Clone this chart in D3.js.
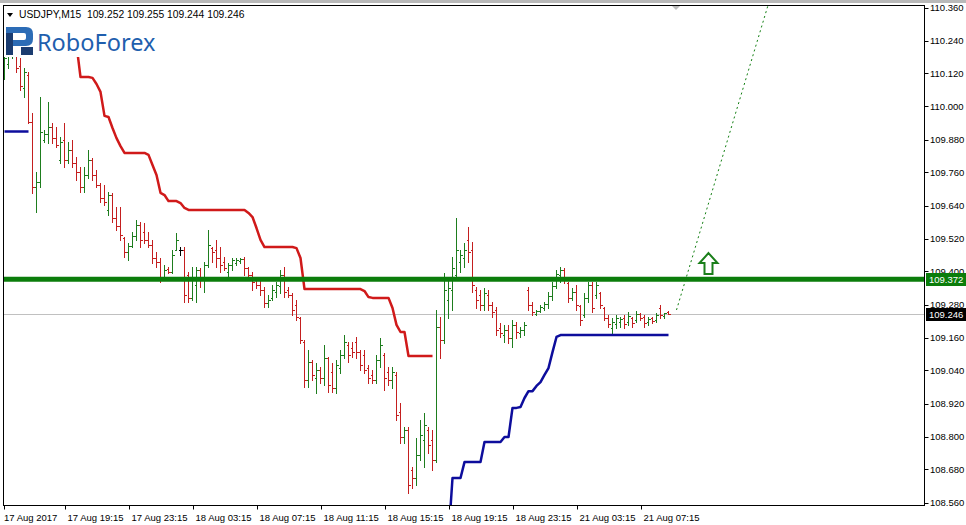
<!DOCTYPE html>
<html>
<head>
<meta charset="utf-8">
<script src="https://cdn.jsdelivr.net/npm/d3@7"></script>
<style>
  html, body { margin: 0; padding: 0; background: #fff; }
  svg { display: block; font-family: "Liberation Sans", Arial, sans-serif; }
</style>
</head>
<body>
<div id="vis"></div>
<script>
// frame constants
const FRAME_WIDTH = 966;
const FRAME_HEIGHT = 525;
const PLOT = {left: 3.5, top: 5.5, right: 924.5, bottom: 505.5};

// chart data
const symbolName = "USDJPY,M15";

// one row per 15 min bar: open, high, low, close
const ohlc = [
  [110.115,110.187,110.100,110.176],[110.154,110.205,110.140,110.191],[110.191,110.249,110.176,110.227],
  [110.212,110.223,110.125,110.140],[110.147,110.176,110.060,110.075],[110.067,110.140,110.035,110.125],
  [110.115,110.125,109.940,109.943],[109.943,109.976,109.686,109.707],[109.707,109.762,109.616,109.725],
  [109.725,110.035,109.707,109.907],[109.878,109.915,109.871,109.900],[109.900,110.016,109.867,109.925],
  [109.925,109.940,109.867,109.885],[109.885,109.925,109.853,109.860],[109.806,109.889,109.795,109.871],
  [109.878,109.940,109.780,109.806],[109.806,109.871,109.795,109.842],[109.842,109.878,109.780,109.795],
  [109.795,109.816,109.733,109.762],[109.762,109.780,109.689,109.707],[109.707,109.780,109.689,109.751],
  [109.751,109.842,109.740,109.806],[109.806,109.813,109.733,109.751],[109.751,109.769,109.707,109.715],
  [109.715,109.722,109.653,109.667],[109.667,109.715,109.642,109.653],[109.624,109.689,109.606,109.678],
  [109.678,109.686,109.580,109.595],[109.595,109.635,109.551,109.565],[109.565,109.635,109.515,109.533],
  [109.522,109.526,109.453,109.471],[109.471,109.504,109.442,109.493],[109.493,109.544,109.489,109.529],
  [109.529,109.587,109.515,109.569],[109.569,109.580,109.489,109.515],[109.544,109.576,109.504,109.515],
  [109.515,109.544,109.489,109.496],[109.496,109.515,109.431,109.449],[109.449,109.471,109.416,109.435],
  [109.435,109.449,109.362,109.376],[109.376,109.424,109.369,109.405],[109.409,109.416,109.395,109.398],
  [109.398,109.478,109.395,109.460],[109.478,109.540,109.478,109.515],[109.478,109.489,109.460,109.478],
  [109.478,109.489,109.289,109.315],[109.387,109.398,109.289,109.304],[109.304,109.416,109.296,109.376],
  [109.351,109.416,109.289,109.405],[109.405,109.413,109.344,109.369],[109.369,109.435,109.326,109.424],
  [109.424,109.551,109.416,109.496],[109.485,109.489,109.435,109.471],[109.478,109.515,109.416,109.449],
  [109.449,109.489,109.398,109.424],[109.435,109.453,109.405,109.413],[109.398,109.431,109.376,109.424],
  [109.424,109.449,109.405,109.442],[109.431,109.449,109.424,109.442],[109.438,109.449,109.431,109.445],
  [109.445,109.453,109.387,109.413],[109.413,109.416,109.369,109.387],[109.387,109.398,109.333,109.362],
  [109.369,109.380,109.340,109.351],[109.351,109.369,109.315,109.333],[109.333,109.344,109.271,109.286],
  [109.286,109.315,109.271,109.296],[109.304,109.351,109.296,109.333],[109.326,109.362,109.307,109.351],
  [109.347,109.405,109.322,109.387],[109.387,109.416,109.307,109.326],[109.333,109.344,109.307,109.315],
  [109.315,109.322,109.242,109.260],[109.278,109.296,109.224,109.235],[109.231,109.235,109.140,109.151],
  [109.144,109.151,108.980,109.005],[109.005,109.115,108.980,109.071],[109.071,109.078,109.005,109.024],
  [109.013,109.067,108.958,109.042],[109.042,109.053,108.995,109.013],[109.013,109.133,108.987,109.086],
  [109.086,109.089,108.962,108.987],[109.035,109.067,108.962,108.976],[108.976,109.078,108.958,109.060],
  [109.049,109.115,109.031,109.096],[109.096,109.169,109.086,109.144],[109.133,109.144,109.071,109.096],
  [109.122,109.144,109.089,109.107],[109.144,109.162,109.086,109.107],[109.107,109.115,109.042,109.060],
  [109.096,109.115,109.031,109.042],[109.049,109.060,108.995,109.013],[109.024,109.042,108.995,109.005],
  [109.005,109.096,108.995,109.078],[109.078,109.158,109.053,109.133],[109.096,109.104,108.969,109.013],
  [109.035,109.053,108.987,109.005],[109.005,109.053,108.976,109.035],[109.024,109.035,108.860,108.878],
  [108.889,108.922,108.776,108.798],[108.798,108.835,108.776,108.824],[108.824,108.835,108.595,108.624],
  [108.678,108.689,108.613,108.649],[108.649,108.795,108.624,108.733],[108.733,108.860,108.715,108.805],
  [108.787,108.886,108.689,108.842],[108.824,108.835,108.740,108.769],[108.787,108.824,108.678,108.715],
  [108.715,109.260,108.707,109.198],[109.198,109.235,109.086,109.151],[109.151,109.395,109.140,109.333],
  [109.296,109.369,109.231,109.340],[109.333,109.453,109.260,109.413],[109.387,109.595,109.369,109.478],
  [109.435,109.478,109.398,109.460],[109.449,109.504,109.416,109.478],[109.515,109.562,109.435,109.471],
  [109.478,109.507,109.326,109.351],[109.333,109.344,109.267,109.296],[109.315,109.333,109.260,109.278],
  [109.278,109.340,109.260,109.322],[109.315,109.333,109.260,109.278],[109.278,109.289,109.235,109.253],
  [109.260,109.271,109.169,109.187],[109.195,109.213,109.162,109.176],[109.169,109.206,109.144,109.187],
  [109.187,109.206,109.140,109.158],[109.158,109.224,109.126,109.206],[109.206,109.216,109.158,109.180],
  [109.176,109.198,109.162,109.187],[109.187,109.216,109.169,109.206],[109.333,109.344,109.260,109.278],
  [109.278,109.289,109.242,109.253],[109.246,109.260,109.242,109.256],[109.256,109.278,109.253,109.271],
  [109.267,109.289,109.260,109.282],[109.282,109.326,109.267,109.311],[109.311,109.362,109.296,109.347],
  [109.347,109.405,109.340,109.391],[109.387,109.416,109.362,109.405],[109.405,109.413,109.358,109.369],
  [109.358,109.362,109.289,109.304],[109.304,109.340,109.296,109.326],[109.326,109.351,109.260,109.278],
  [109.275,109.278,109.206,109.224],[109.242,109.322,109.235,109.304],[109.304,109.362,109.289,109.351],
  [109.351,109.362,109.253,109.267],[109.315,109.362,109.304,109.351],[109.322,109.326,109.267,109.278],
  [109.267,109.271,109.224,109.231],[109.231,109.242,109.198,109.209],[109.195,109.231,109.176,109.216],
  [109.209,109.242,109.195,109.231],[109.216,109.235,109.198,109.227],[109.231,109.242,109.195,109.209],
  [109.216,109.253,109.206,109.238],[109.231,109.235,109.198,109.213],[109.224,109.256,109.216,109.246],
  [109.246,109.249,109.224,109.231],[109.235,109.242,109.198,109.213],[109.216,109.235,109.206,109.227],
  [109.231,109.235,109.213,109.220],[109.224,109.249,109.216,109.242],[109.267,109.278,109.231,109.242],
  [109.238,109.249,109.231,109.249],[109.252,109.255,109.244,109.246]
];

// upper channel (red), values per bar starting at bar 18
const upperStart = 18;
const upperBand = [
  110.224, 110.107, 110.107, 110.107, 110.104, 110.082, 110.053, 109.966, 109.962, 109.922,
  109.885, 109.856, 109.831, 109.831, 109.831, 109.831, 109.831, 109.831, 109.824, 109.787,
  109.751, 109.686, 109.678, 109.656, 109.656, 109.656, 109.649, 109.631, 109.624, 109.624,
  109.624, 109.624, 109.624, 109.624, 109.624, 109.624, 109.624, 109.624, 109.624, 109.624,
  109.624, 109.624, 109.624, 109.613, 109.598, 109.558, 109.515, 109.489, 109.489, 109.489,
  109.489, 109.489, 109.489, 109.489, 109.489, 109.485, 109.449, 109.336, 109.336, 109.336,
  109.336, 109.336, 109.336, 109.336, 109.336, 109.336, 109.336, 109.336, 109.336, 109.336,
  109.336, 109.336, 109.329, 109.307, 109.304, 109.304, 109.304, 109.304, 109.304, 109.267,
  109.206, 109.180, 109.180, 109.093, 109.093, 109.093, 109.093, 109.093, 109.093, 109.093
];

// lower channel (blue), two visible pieces
const lowerStartA = 0;
const lowerBandA = [109.909, 109.909, 109.909, 109.909, 109.909, 109.909, 109.909];
const lowerStartB = 111;
const lowerBandB = [
  108.431, 108.649, 108.649, 108.649, 108.707, 108.707, 108.707, 108.707, 108.707, 108.780,
  108.780, 108.780, 108.780, 108.780, 108.798, 108.798, 108.904, 108.904, 108.907, 108.940,
  108.965, 108.965, 108.984, 108.998, 109.024, 109.049, 109.107, 109.162, 109.169, 109.169,
  109.169, 109.169, 109.169, 109.169, 109.169, 109.169, 109.169, 109.169, 109.169, 109.169,
  109.169, 109.169, 109.169, 109.169, 109.169, 109.169, 109.169, 109.169, 109.169, 109.169,
  109.169, 109.169, 109.169, 109.169, 109.169, 109.169
];

const levelPrice = 109.372;
const forecast = [[168, 109.260], [191, 110.374]];
const arrowAt = [176, 109.467];

const priceTicks = [110.360, 110.240, 110.120, 110.000, 109.880, 109.760, 109.640, 109.520,
                    109.400, 109.280, 109.160, 109.040, 108.920, 108.800, 108.680, 108.560];
const timeLabels = ["17 Aug 2017", "17 Aug 19:15", "17 Aug 23:15", "18 Aug 03:15", "18 Aug 07:15",
                    "18 Aug 11:15", "18 Aug 15:15", "18 Aug 19:15", "18 Aug 23:15", "21 Aug 03:15",
                    "21 Aug 07:15"];
const timeIndex = [0, 15, 31, 47, 63, 79, 95, 111, 127, 143, 159];

const UP = "#1e7d1e", DOWN = "#c41f1f";
const fmt = d3.format(".3f");

const svg = d3.select("#vis")
              .append("svg")
              .attr("width", FRAME_WIDTH)
              .attr("height", FRAME_HEIGHT);

// scales
const x = d3.scaleLinear()
            .domain([0, ohlc.length - 1])
            .range([4.5, 4.5 + 4 * (ohlc.length - 1)]);
const y = d3.scaleLinear()
            .domain([108.56, 110.36])
            .range([502.5, 7.5]);

const px = v => Math.round(v) + 0.5;

// background + top strip
svg.append("rect").attr("width", FRAME_WIDTH).attr("height", FRAME_HEIGHT).attr("fill", "#fff");
svg.append("rect").attr("width", FRAME_WIDTH).attr("height", 3).attr("fill", "#b9b9b9");

svg.append("clipPath").attr("id", "plotclip")
   .append("rect")
   .attr("x", PLOT.left).attr("y", PLOT.top)
   .attr("width", PLOT.right - PLOT.left).attr("height", PLOT.bottom - PLOT.top);

const plot = svg.append("g").attr("clip-path", "url(#plotclip)");

// bid line
const bid = ohlc[ohlc.length - 1][3];
plot.append("line")
    .attr("x1", PLOT.left).attr("x2", PLOT.right)
    .attr("y1", px(y(bid))).attr("y2", px(y(bid)))
    .attr("stroke", "#c0c0c0").attr("stroke-width", 1);

// OHLC bars
const barColor = d => d[3] > d[0] ? UP : (d[3] < d[0] ? DOWN : "#000");
const bars = plot.selectAll("g.bar")
                 .data(ohlc)
                 .enter()
                 .append("g")
                 .attr("class", "bar")
                 .attr("stroke", barColor)
                 .attr("stroke-width", 1)
                 .attr("shape-rendering", "crispEdges");
bars.append("line")
    .attr("x1", (d, i) => x(i)).attr("x2", (d, i) => x(i))
    .attr("y1", d => Math.round(y(d[1]))).attr("y2", d => Math.round(y(d[2])) + 1);
bars.append("line")
    .attr("x1", (d, i) => x(i) - 2).attr("x2", (d, i) => x(i))
    .attr("y1", d => px(y(d[0]))).attr("y2", d => px(y(d[0])));
bars.append("line")
    .attr("x1", (d, i) => x(i)).attr("x2", (d, i) => x(i) + 2)
    .attr("y1", d => px(y(d[3]))).attr("y2", d => px(y(d[3])));

// channel lines
const bandLine = d3.line().x(d => x(d[0])).y(d => y(d[1]));
const toPts = (start, arr) => arr.map((v, k) => [start + k, v]);

plot.append("path")
    .attr("d", bandLine(toPts(upperStart, upperBand)))
    .attr("fill", "none").attr("stroke", "#d01a1a").attr("stroke-width", 2.5)
    .attr("stroke-linejoin", "round");
[[lowerStartA, lowerBandA], [lowerStartB, lowerBandB]].forEach(([s, arr]) => {
  plot.append("path")
      .attr("d", bandLine(toPts(s, arr)))
      .attr("fill", "none").attr("stroke", "#0d0d9c").attr("stroke-width", 2.5)
      .attr("stroke-linejoin", "round");
});

// horizontal level
plot.append("line")
    .attr("x1", PLOT.left).attr("x2", PLOT.right)
    .attr("y1", y(levelPrice)).attr("y2", y(levelPrice))
    .attr("stroke", "#0b7d0b").attr("stroke-width", 5);

// forecast dotted line
plot.append("path")
    .attr("d", bandLine(forecast))
    .attr("fill", "none").attr("stroke", "#127f12").attr("stroke-width", 1)
    .attr("stroke-dasharray", "2,3");

// up arrow
const ax = x(arrowAt[0]), ay = y(arrowAt[1]);
svg.append("path")
   .attr("d", `M${ax},${ay} L${ax + 9},${ay + 10} L${ax + 4},${ay + 10} L${ax + 4},${ay + 21}
               L${ax - 4},${ay + 21} L${ax - 4},${ay + 10} L${ax - 9},${ay + 10} Z`)
   .attr("fill", "#fff").attr("stroke", "#1a7f1a").attr("stroke-width", 2)
   .attr("stroke-linejoin", "miter");

// logo
svg.append("rect").attr("x", 4).attr("y", 21).attr("width", 158).attr("height", 36).attr("fill", "#fff");
const logo = svg.append("g");
logo.append("path")
    .attr("d", "M6,27 H26 Q33,27 33,34 V39 Q33,46 26,46 H13 V40 H24 Q26,40 26,38 V35 Q26,33 24,33 H6 Z")
    .attr("fill", "#2c6cb6");
logo.append("rect").attr("x", 6).attr("y", 33).attr("width", 7).attr("height", 22).attr("fill", "#1b3c70");
logo.append("rect").attr("x", 21).attr("y", 47).attr("width", 12).attr("height", 8).attr("fill", "#1b3c70");
logo.append("text")
    .attr("x", 37).attr("y", 51)
    .attr("font-family", "'Noto Sans', sans-serif")
    .attr("font-size", 23.5)
    .attr("fill", "#1f5fae")
    .text("RoboForex");

// header
svg.append("path").attr("d", "M7,13 L13,13 L10,17 Z").attr("fill", "#000");
const last = ohlc[ohlc.length - 1];
svg.append("text")
   .attr("x", 19).attr("y", 18)
   .attr("font-size", 10.3)
   .style("white-space", "pre")
   .text(symbolName + "  " + last.map(fmt).join(" "));

// chart shift marker
svg.append("path").attr("d", "M672,6 L680,6 L676,10 Z").attr("fill", "#bdbdbd");

// frame
svg.append("rect")
   .attr("x", PLOT.left).attr("y", PLOT.top)
   .attr("width", PLOT.right - PLOT.left).attr("height", PLOT.bottom - PLOT.top)
   .attr("fill", "none").attr("stroke", "#000").attr("stroke-width", 1);

// price axis
const pAxis = svg.append("g");
priceTicks.forEach(p => {
  pAxis.append("line")
       .attr("x1", PLOT.right).attr("x2", PLOT.right + 4)
       .attr("y1", px(y(p))).attr("y2", px(y(p)))
       .attr("stroke", "#000");
  pAxis.append("text")
       .attr("x", 930).attr("y", y(p) + 3.5)
       .attr("font-size", 9.5)
       .text(fmt(p));
});

// axis boxes (drawn over the tick labels, as in the terminal)
[[levelPrice, "#0b7d0b"], [bid, "#000"]].forEach(([p, c]) => {
  svg.append("rect")
     .attr("x", 926).attr("y", Math.round(y(p)) - 6)
     .attr("width", 40).attr("height", 13)
     .attr("fill", c);
  svg.append("text")
     .attr("x", 929).attr("y", y(p) + 4)
     .attr("font-size", 9.5).attr("fill", "#fff")
     .text(fmt(p));
});

// time axis
timeLabels.forEach((t, k) => {
  const tx = k === 0 ? PLOT.left : x(timeIndex[k]);
  svg.append("line")
     .attr("x1", px(tx)).attr("x2", px(tx))
     .attr("y1", PLOT.bottom).attr("y2", PLOT.bottom + 4)
     .attr("stroke", "#000");
  svg.append("text")
     .attr("x", k === 0 ? tx + 0.5 : tx + 3).attr("y", 521)
     .attr("font-size", 9.5)
     .text(t);
});
</script>
</body>
</html>
